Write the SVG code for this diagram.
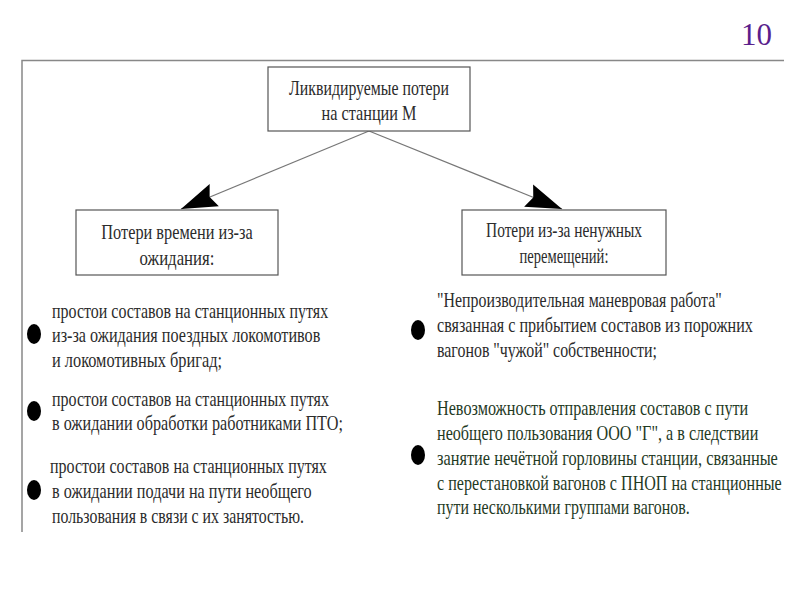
<svg xmlns="http://www.w3.org/2000/svg" width="800" height="600" viewBox="0 0 800 600">
<defs>
<style>
.box{fill:#fff;stroke:#555;stroke-width:1.2}
.frame{stroke:#888;stroke-width:1.5;fill:none}
.conn{stroke:#777;stroke-width:1.2;fill:none}
.bul{fill:#000}
</style>
<marker id="ah" markerUnits="userSpaceOnUse" markerWidth="44" markerHeight="28" refX="0" refY="0" viewBox="-38 -14 40 28" orient="auto">
<path d="M0,0 L-36,-12 L-31,0 L-36,12 Z" fill="#000"/>
</marker>
</defs>
<rect width="800" height="600" fill="#fff"/>
<text x="741" y="45" font-family="Liberation Serif, serif" font-size="31" fill="#5b1f8c">10</text>
<path class="frame" d="M22,532 L22,60.5 L784,60.5"/>
<g id="connectors">
<line class="conn" x1="369" y1="131" x2="181" y2="209" marker-end="url(#ah)"/>
<line class="conn" x1="369" y1="131" x2="562" y2="209" marker-end="url(#ah)"/>
</g>
<g id="root">
<rect class="box" x="268" y="67" width="202" height="64"/>
<g transform="translate(369,0) scale(0.78,1)" font-family="Liberation Serif, serif" font-size="21" fill="#2b2b2b" text-anchor="middle">
<text x="0" y="95" textLength="205" lengthAdjust="spacingAndGlyphs">Ликвидируемые потери</text>
<text x="0" y="120" textLength="122" lengthAdjust="spacingAndGlyphs">на станции М</text>
</g>
</g>
<g id="waiting">
<rect class="box" x="76" y="210" width="202" height="65"/>
<g transform="translate(177,0) scale(0.78,1)" font-family="Liberation Serif, serif" font-size="21" fill="#2b2b2b" text-anchor="middle">
<text x="0" y="239" textLength="194" lengthAdjust="spacingAndGlyphs">Потери времени из-за</text>
<text x="0" y="265" textLength="96" lengthAdjust="spacingAndGlyphs">ожидания:</text>
</g>
</g>
<g id="moves">
<rect class="box" x="462" y="210" width="204" height="65"/>
<g transform="translate(564,0) scale(0.78,1)" font-family="Liberation Serif, serif" font-size="21" fill="#2b2b2b" text-anchor="middle">
<text x="0" y="237" textLength="200" lengthAdjust="spacingAndGlyphs">Потери из-за ненужных</text>
<text x="0" y="263" textLength="114" lengthAdjust="spacingAndGlyphs">перемещений:</text>
</g>
</g>
<g id="left-items">
<ellipse class="bul" cx="34" cy="334" rx="7" ry="10"/>
<ellipse class="bul" cx="34" cy="411" rx="7" ry="10"/>
<ellipse class="bul" cx="34" cy="490" rx="7" ry="10"/>
<g transform="translate(52,0) scale(0.78,1)" font-family="Liberation Serif, serif" font-size="21" fill="#2b2b2b">
<text x="0" y="318" textLength="354" lengthAdjust="spacingAndGlyphs">простои составов на станционных путях</text>
<text x="0" y="342" textLength="344" lengthAdjust="spacingAndGlyphs">из-за ожидания поездных локомотивов</text>
<text x="0" y="367" textLength="218" lengthAdjust="spacingAndGlyphs">и локомотивных бригад;</text>
<text x="0" y="406" textLength="355" lengthAdjust="spacingAndGlyphs">простои составов на станционных путях</text>
<text x="0" y="430" textLength="373" lengthAdjust="spacingAndGlyphs">в ожидании обработки работниками ПТО;</text>
<text x="-2.6" y="473" textLength="355" lengthAdjust="spacingAndGlyphs">простои составов на станционных путях</text>
<text x="0" y="498" textLength="333" lengthAdjust="spacingAndGlyphs">в ожидании подачи на пути необщего</text>
<text x="0" y="523" textLength="323" lengthAdjust="spacingAndGlyphs">пользования в связи с их занятостью.</text>
</g>
</g>
<g id="right-items">
<ellipse class="bul" cx="418" cy="330" rx="7" ry="10"/>
<ellipse class="bul" cx="418" cy="455" rx="7" ry="10"/>
<g transform="translate(437,0) scale(0.78,1)" font-family="Liberation Serif, serif" font-size="21" fill="#2b2b2b">
<text x="0" y="307" textLength="365" lengthAdjust="spacingAndGlyphs">"Непроизводительная маневровая работа"</text>
<text x="0" y="332" textLength="405" lengthAdjust="spacingAndGlyphs">связанная с прибытием составов из порожних</text>
<text x="0" y="357" textLength="282" lengthAdjust="spacingAndGlyphs">вагонов "чужой" собственности;</text>
<g fill="#1f3a1f">
<text x="0" y="415" textLength="399" lengthAdjust="spacingAndGlyphs">Невозможность отправления составов с пути</text>
<text x="0" y="440" textLength="412" lengthAdjust="spacingAndGlyphs">необщего пользования ООО "Г", а в следствии</text>
<text x="0" y="465" textLength="437" lengthAdjust="spacingAndGlyphs">занятие нечётной горловины станции, связанные</text>
<text x="0" y="490" textLength="442" lengthAdjust="spacingAndGlyphs">с перестановкой вагонов с ПНОП на станционные</text>
<text x="0" y="514" textLength="324" lengthAdjust="spacingAndGlyphs">пути несколькими группами вагонов.</text>
</g>
</g>
</g>
</svg>
